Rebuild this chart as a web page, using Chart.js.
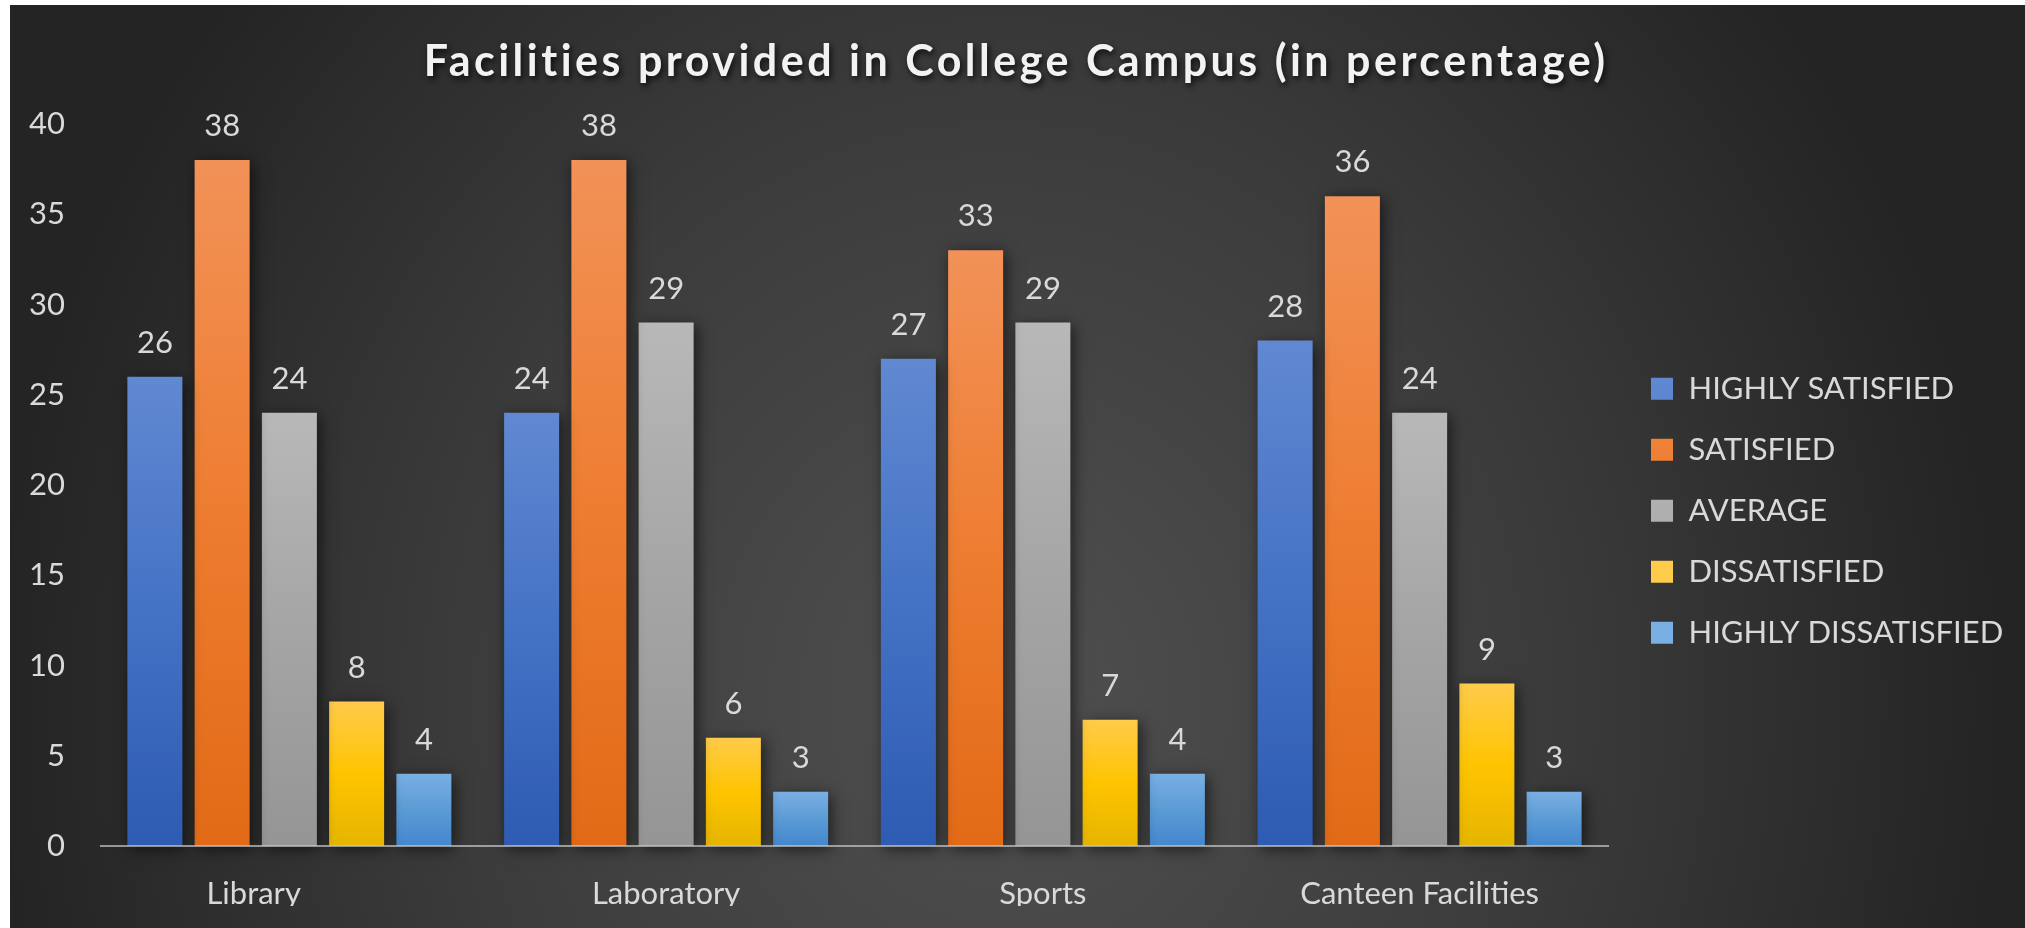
<!DOCTYPE html>
<html>
<head>
<meta charset="utf-8">
<script src="https://cdn.jsdelivr.net/npm/chart.js@4.4.0/dist/chart.umd.min.js"></script>
<style>
  html, body { margin: 0; padding: 0; background: #ffffff; }
  #wrap {
    position: absolute; left: 10px; top: 5px; width: 2015px; height: 923px;
    background: radial-gradient(ellipse 1000px 1100px at 990px 695px, #505050 0%, #3b3b3b 55%, #242424 100%);
  }
  #c { display: block; }
</style>
</head>
<body>
<div id="wrap"><canvas id="c"></canvas></div>
<script>
// ---- data ----
const categories = ['Library         ', 'Laboratory', 'Sports', 'Canteen Facilities'];
const seriesNames = ['HIGHLY SATISFIED', 'SATISFIED', 'AVERAGE', 'DISSATISFIED', 'HIGHLY DISSATISFIED'];
const highlySatisfied = [26, 24, 27, 28];
const satisfied = [38, 38, 33, 36];
const average = [24, 29, 29, 24];
const dissatisfied = [8, 6, 7, 9];
const highlyDissatisfied = [4, 3, 4, 3];
const yMin = 0, yMax = 40, yStep = 5;
const titleText = 'Facilities provided in College Campus (in percentage)';

// ---- styles ----
const seriesStops = [
  ['#6189d2', '#4472c4', '#2e5bb3'],
  ['#f29258', '#ee7d31', '#e26a16'],
  ['#b8b8b8', '#a5a5a5', '#959595'],
  ['#ffcb4b', '#ffc400', '#e5b500'],
  ['#7aafe3', '#5b9bd5', '#4387cd']
];
const FONT = 'Lato';
const TXT = '#d9d9d9';
const TITLE_SIZE = 43;

function makeBg(stops) {
  return (ctx) => {
    const chart = ctx.chart;
    const ys = chart.scales && chart.scales.y;
    if (ctx.type !== 'data' || !ys || !chart.chartArea) return stops[1];
    const v = ctx.parsed ? ctx.parsed.y : ctx.raw;
    const top = ys.getPixelForValue(v), bot = ys.getPixelForValue(0);
    if (!isFinite(top) || !isFinite(bot) || top === bot) return stops[1];
    const g = chart.ctx.createLinearGradient(0, top, 0, bot);
    g.addColorStop(0, stops[0]);
    g.addColorStop(0.5, stops[1]);
    g.addColorStop(1, stops[2]);
    return g;
  };
}

Promise.all([
  document.fonts.load('31px Lato'),
  document.fonts.load('bold ' + TITLE_SIZE + 'px Lato')
]).catch(() => {}).then(build);

function build() {
  const mc = document.createElement('canvas').getContext('2d');
  mc.font = '31px ' + FONT;
  const W = Math.max(...seriesNames.map(s => mc.measureText(s).width));
  mc.font = 'bold ' + TITLE_SIZE + 'px ' + FONT;
  const tw = mc.measureText(titleText).width;
  let titleLS = (1182 - tw) / (titleText.length - 1);
  titleLS = Math.max(0, Math.min(6, titleLS));

  const LEGEND_SHIFT = 13;
  const TITLE_SHIFT = 11;
  const padRight = Math.max(0, 339.5 - W);

  const seriesValues = [highlySatisfied, satisfied, average, dissatisfied, highlyDissatisfied];

  const decoPlugin = {
    id: 'deco',
    beforeDraw(chart) {
      const c = chart.ctx;
      const tb = chart.titleBlock;
      if (tb && !tb._wrapped) {
        const orig = tb.draw.bind(tb);
        tb.draw = function (area) {
          c.save();
          c.translate(TITLE_SHIFT, 0);
          c.shadowColor = 'rgba(0,0,0,0.8)';
          c.shadowBlur = 6;
          c.shadowOffsetX = 2;
          c.shadowOffsetY = 3;
          c.letterSpacing = titleLS + 'px';
          orig(area);
          c.restore();
        };
        tb._wrapped = true;
      }
      const lg = chart.legend;
      if (lg && !lg._wrapped) {
        const origL = lg.draw.bind(lg);
        lg.draw = function (area) {
          c.save();
          c.translate(LEGEND_SHIFT, 0);
          origL(area);
          c.restore();
        };
        lg._wrapped = true;
      }
    },
    beforeDatasetsDraw(chart) {
      const c = chart.ctx;
      c.save();
      c.shadowColor = 'rgba(0,0,0,0.6)';
      c.shadowBlur = 14;
      c.shadowOffsetX = 3;
      c.shadowOffsetY = 3;
    },
    afterDatasetsDraw(chart) {
      const c = chart.ctx;
      c.restore();
      c.save();
      c.font = '31px ' + FONT;
      c.fillStyle = TXT;
      c.textAlign = 'center';
      c.textBaseline = 'middle';
      chart.data.datasets.forEach((ds, di) => {
        const meta = chart.getDatasetMeta(di);
        meta.data.forEach((bar, i) => {
          c.fillText(String(ds.data[i]), bar.x, bar.y - 34);
        });
      });
      c.restore();
    }
  };

  new Chart(document.getElementById('c'), {
    type: 'bar',
    data: {
      labels: categories,
      datasets: seriesNames.map((name, k) => ({
        label: name,
        data: seriesValues[k],
        backgroundColor: makeBg(seriesStops[k]),
        borderWidth: 0,
        categoryPercentage: 0.8925,
        barPercentage: 0.818,
        clip: false
      }))
    },
    options: {
      responsive: true,
      maintainAspectRatio: false,
      animation: false,
      events: [],
      layout: { padding: { left: 0, right: padRight, top: 0, bottom: 22 } },
      plugins: {
        title: {
          display: true,
          text: titleText,
          color: '#f2f2f2',
          font: { family: FONT, size: TITLE_SIZE, weight: 'bold', lineHeight: 1.2 },
          padding: { top: 31, bottom: 36.4 }
        },
        legend: {
          display: true,
          position: 'right',
          fullSize: false,
          align: 'center',
          title: { display: true, text: '', font: { family: FONT, size: 20, lineHeight: 1.2 }, padding: { top: 27.4, bottom: 0 } },
          labels: {
            color: TXT,
            font: { family: FONT, size: 31 },
            boxWidth: 22,
            boxHeight: 22,
            padding: 30
          }
        },
        tooltip: { enabled: false }
      },
      scales: {
        x: {
          grid: { display: false, drawTicks: false },
          border: { display: true, color: 'rgba(200,200,200,0.7)', width: 2, z: 1 },
          ticks: { color: TXT, font: { family: FONT, size: 31, lineHeight: 1.2 }, padding: 29, maxRotation: 0, autoSkip: false },
          afterFit(s) { s.height = 60; }
        },
        y: {
          min: yMin, max: yMax,
          grid: { display: false, drawTicks: false },
          border: { display: false },
          ticks: { stepSize: yStep, color: TXT, font: { family: FONT, size: 31 }, padding: 36 },
          afterFit(s) { s.width = 91; }
        }
      }
    },
    plugins: [decoPlugin]
  });
}
</script>
</body>
</html>
